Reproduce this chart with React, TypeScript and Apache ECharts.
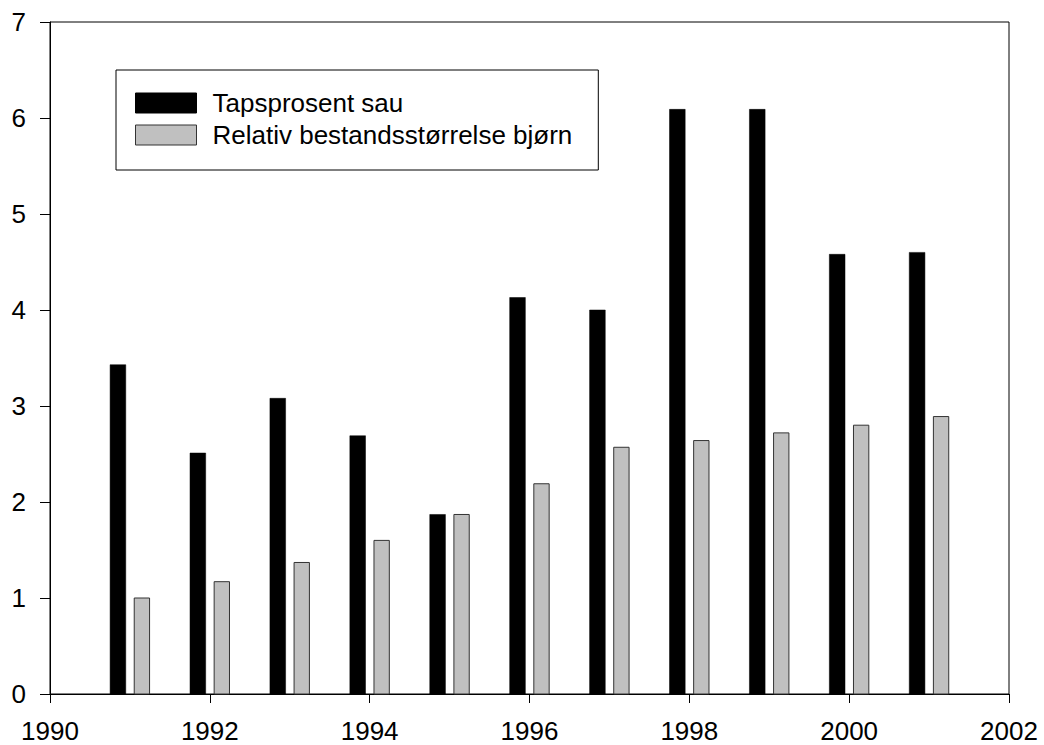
import React, { useEffect, useRef } from "react";
import * as echarts from "echarts";

const years = [1991, 1992, 1993, 1994, 1995, 1996, 1997, 1998, 1999, 2000, 2001];
const tapsprosentSau = [3.43, 2.51, 3.08, 2.69, 1.87, 4.13, 4.0, 6.09, 6.09, 4.58, 4.6];
const relativBestand = [1.0, 1.17, 1.37, 1.6, 1.87, 2.19, 2.57, 2.64, 2.72, 2.8, 2.89];
const seriesNames = ["Tapsprosent sau", "Relativ bestandsstørrelse bjørn"];

const FONT = "'Liberation Sans', Arial, Helvetica, sans-serif";

function makeRender(offset: number, halfWidth: number, fill: string, stroke: string, lw: number) {
  return (params: any, api: any) => {
    const x = api.value(0);
    const y = api.value(1);
    const p0 = api.coord([x + offset - halfWidth, y]);
    const p1 = api.coord([x + offset + halfWidth, 0]);
    return {
      type: "rect",
      shape: { x: p0[0], y: p0[1], width: p1[0] - p0[0], height: p1[1] - p0[1] },
      style: { fill, stroke, lineWidth: lw },
    };
  };
}

export default function App() {
  const ref = useRef<HTMLDivElement>(null);
  useEffect(() => {
    if (!ref.current) return;
    const chart = echarts.init(ref.current, null, { renderer: "svg" });
    chart.setOption({
      animation: false,
      backgroundColor: "#fff",
      textStyle: { fontFamily: FONT },
      grid: {
        left: 50,
        right: 35,
        top: 22,
        bottom: 51,
        show: true,
        borderColor: "#000",
        borderWidth: 1,
        backgroundColor: "transparent",
      },
      legend: {
        orient: "vertical",
        left: 116,
        top: 70,
        padding: [20, 26, 22, 19],
        itemWidth: 61,
        itemHeight: 20,
        itemGap: 6,
        borderColor: "#000",
        borderWidth: 1,
        backgroundColor: "#fff",
        icon: "rect",
        textStyle: {
          fontFamily: FONT,
          fontSize: 26,
          color: "#000",
          padding: [0, 0, 0, 11],
        },
        data: [
          { name: seriesNames[0], itemStyle: { color: "#000", borderColor: "#000", borderWidth: 1 } },
          { name: seriesNames[1], itemStyle: { color: "#c0c0c0", borderColor: "#333", borderWidth: 1 } },
        ],
      },
      xAxis: {
        type: "value",
        min: 1990,
        max: 2002,
        interval: 2,
        splitLine: { show: false },
        axisLine: { show: true, lineStyle: { color: "#000", width: 1 } },
        axisTick: { show: true, inside: false, length: 9, lineStyle: { color: "#000" } },
        axisLabel: {
          fontFamily: FONT,
          fontSize: 26,
          color: "#000",
          margin: 24,
          showMinLabel: true,
          showMaxLabel: true,
          formatter: (v: number) => String(v),
        },
      },
      yAxis: {
        type: "value",
        min: 0,
        max: 7,
        interval: 1,
        splitLine: { show: false },
        axisLine: { show: true, lineStyle: { color: "#000", width: 1 } },
        axisTick: { show: true, inside: false, length: 10, lineStyle: { color: "#000" } },
        axisLabel: { fontFamily: FONT, fontSize: 26, color: "#000", margin: 24 },
      },
      series: [
        {
          name: seriesNames[0],
          type: "custom",
          itemStyle: { color: "#000" },
          renderItem: makeRender(-0.15, 0.098, "#000", "#000", 0.5),
          data: years.map((y, i) => [y, tapsprosentSau[i]]),
          encode: { x: 0, y: 1 },
        },
        {
          name: seriesNames[1],
          type: "custom",
          itemStyle: { color: "#c0c0c0" },
          renderItem: makeRender(0.15, 0.096, "#c0c0c0", "#333", 1),
          data: years.map((y, i) => [y, relativBestand[i]]),
          encode: { x: 0, y: 1 },
        },
      ],
    });
    return () => chart.dispose();
  }, []);
  return (
    <div
      ref={ref}
      style={{ position: "fixed", left: 0, top: 0, width: 1044, height: 745, background: "#fff" }}
    />
  );
}
